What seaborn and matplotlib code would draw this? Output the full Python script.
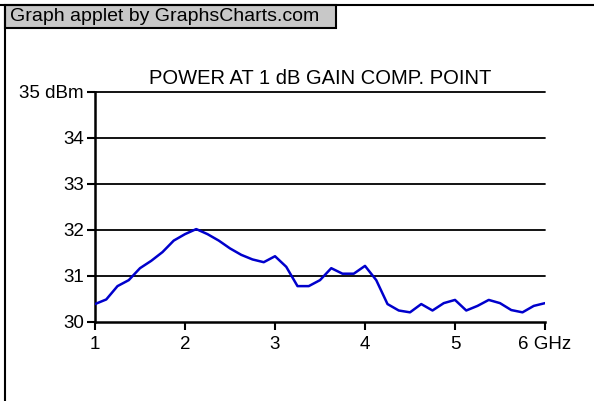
import matplotlib
matplotlib.use("Agg")
import matplotlib.pyplot as plt
import seaborn as sns
import numpy as np
import pandas as pd
from matplotlib.patches import Rectangle
from matplotlib.lines import Line2D

freq_ghz = [1 + k * 0.125 for k in range(41)]
power_dbm = [30.39, 30.49, 30.78, 30.91, 31.17, 31.33, 31.52, 31.77, 31.91, 32.02,
             31.91, 31.77, 31.60, 31.46, 31.36, 31.30, 31.43, 31.20, 30.78, 30.78,
             30.91, 31.17, 31.05, 31.05, 31.22, 30.91, 30.39, 30.25, 30.21, 30.39,
             30.25, 30.41, 30.48, 30.25, 30.35, 30.48, 30.41, 30.26, 30.21, 30.35,
             30.41]
x_ticks = [1, 2, 3, 4, 5, 6]
x_labels = ["1", "2", "3", "4", "5", "6 GHz"]
y_ticks = [30, 31, 32, 33, 34, 35]
y_labels = ["30", "31", "32", "33", "34", "35 dBm"]
title = "POWER AT 1 dB GAIN COMP. POINT"
header = "Graph applet by GraphsCharts.com"

sns.set_style("white")
plt.rcParams['font.family'] = ['Liberation Sans', 'DejaVu Sans']
plt.rcParams['text.color'] = 'black'
plt.rcParams['xtick.color'] = 'black'
plt.rcParams['ytick.color'] = 'black'
plt.rcParams['axes.labelcolor'] = 'black'

W, H = 594, 401
fig = plt.figure(figsize=(W / 100, H / 100), dpi=100)
fig.patch.set_facecolor("white")

# frame: top line, left line, header box
fig.add_artist(Line2D([0, 1], [1 - 4.5 / H, 1 - 4.5 / H], color="black", lw=1.5,
                      transform=fig.transFigure))
fig.add_artist(Line2D([4.5 / W, 4.5 / W], [0, 1 - 4.5 / H], color="black", lw=1.5,
                      transform=fig.transFigure))
fig.add_artist(Rectangle((4.5 / W, 1 - 28 / H), (336 - 4.5) / W, (28 - 4.5) / H,
                         facecolor="#c8c8c8", edgecolor="black", lw=1.5,
                         transform=fig.transFigure))
fig.text(10 / W, 1 - 16.5 / H, header, fontsize=14, va="center", ha="left",
         color="black")

ax = fig.add_axes([95 / W, 1 - 322 / H, (545 - 95) / W, (322 - 92) / H])
df = pd.DataFrame({"freq": freq_ghz, "power": power_dbm})
sns.lineplot(data=df, x="freq", y="power", ax=ax, color="#0000cc", lw=1.8, zorder=3)

ax.set_xlim(1, 6)
ax.set_ylim(30, 35)
ax.set_xticks(x_ticks)
ax.set_xticklabels(x_labels)
ax.set_yticks(y_ticks)
ax.set_yticklabels(y_labels)
ax.set_xlabel("")
ax.set_ylabel("")
for y in y_ticks[1:]:
    ax.axhline(y, color="black", lw=1.3, zorder=1, clip_on=False)
for s in ["top", "right"]:
    ax.spines[s].set_visible(False)
for s in ["left", "bottom"]:
    ax.spines[s].set_color("black")
    ax.spines[s].set_linewidth(1.8)
ax.tick_params(axis="both", which="major", direction="out", length=6, width=1.5,
               color="black", labelcolor="black", labelsize=13.5, left=True, bottom=True)
ax.tick_params(axis="x", pad=4)
ax.tick_params(axis="y", pad=2)
ax.set_title(title, fontsize=14.5, pad=6, color="black")

fig.savefig("out.png", dpi=100)
